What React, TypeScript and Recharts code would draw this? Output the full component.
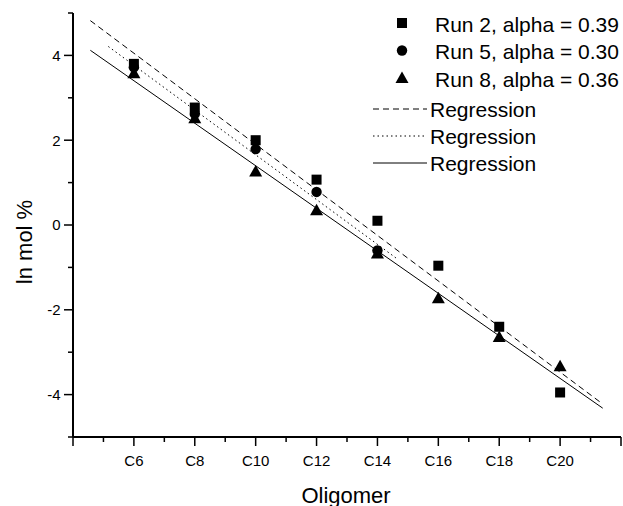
import { ComposedChart, Line, Scatter, XAxis, YAxis, Label } from "recharts";

const carbons = [6, 8, 10, 12, 14, 16, 18, 20];
const run2 = [3.8, 2.77, 2.0, 1.07, 0.1, -0.96, -2.4, -3.95];
const run5 = [3.72, 2.62, 1.79, 0.78, -0.6];
const run8 = [3.58, 2.52, 1.26, 0.35, -0.67, -1.73, -2.64, -3.33];

// regression line end points
const reg2X = [4.57, 21.36];
const reg2Y = [4.82, -4.2];
const reg5X = [5.16, 14.67];
const reg5Y = [4.21, -0.81];
const reg8X = [4.57, 21.4];
const reg8Y = [4.12, -4.32];

const xTicks = [4, 5, 6, 7, 8, 9, 10, 11, 12, 13, 14, 15, 16, 17, 18, 19, 20, 21, 22];
const yTicks = [-5, -4, -3, -2, -1, 0, 1, 2, 3, 4, 5];

const runLabels = ["Run 2, alpha = 0.39", "Run 5, alpha = 0.30", "Run 8, alpha = 0.36"];
const regLabel = "Regression";

const FONT = "'Liberation Sans', Arial, sans-serif";

const toPoints = (xs: number[], ys: number[]) => ys.map((y, i) => ({ x: xs[i], y }));

function Square({ cx, cy }: any) {
  return <rect x={cx - 5} y={cy - 5} width={10} height={10} fill="#000" />;
}
function Circle({ cx, cy }: any) {
  return <circle cx={cx} cy={cy} r={5.2} fill="#000" />;
}
function Triangle({ cx, cy }: any) {
  return <polygon points={`${cx},${cy - 6.5} ${cx - 6.5},${cy + 5} ${cx + 6.5},${cy + 5}`} fill="#000" />;
}

function XTick({ x, y, payload }: any) {
  const v = payload.value as number;
  const major = v % 2 === 0;
  return (
    <g>
      <line x1={x} x2={x} y1={y} y2={y + (major ? 9 : 5)} stroke="#000" strokeWidth={1.5} />
      {major && v >= 6 && v <= 20 && (
        <text x={x} y={y + 29} textAnchor="middle" fontSize={15} fontFamily={FONT} fill="#000">
          C{v}
        </text>
      )}
    </g>
  );
}

function YTick({ x, y, payload }: any) {
  const v = payload.value as number;
  const major = v % 2 === 0;
  return (
    <g>
      <line x1={x} x2={x - (major ? 9 : 5)} y1={y} y2={y} stroke="#000" strokeWidth={1.5} />
      {major && (
        <text x={x - 12.5} y={y} dy="0.36em" textAnchor="end" fontSize={15} fontFamily={FONT} fill="#000">
          {v}
        </text>
      )}
    </g>
  );
}

function ChartLegend() {
  const symbols = [Square, Circle, Triangle];
  const dashes = ["6 4", "1.5 3", undefined];
  const rowsY = [24, 51.5, 79, 109, 136, 163];
  return (
    <svg width={260} height={185} style={{ position: "absolute", left: 363, top: 0 }}>
      <g transform="translate(-363,0)">
        {runLabels.map((label, i) => {
          const Sym = symbols[i];
          return (
            <g key={label}>
              <Sym cx={402} cy={rowsY[i] - 1} />
              <text x={435} y={rowsY[i]} dy="0.36em" fontSize={21} fontFamily={FONT} fill="#000">
                {label}
              </text>
            </g>
          );
        })}
        {dashes.map((d, i) => (
          <g key={i}>
            <line x1={373} x2={427} y1={rowsY[i + 3]} y2={rowsY[i + 3]} stroke="#000" strokeWidth={1} strokeDasharray={d} />
            <text x={430} y={rowsY[i + 3]} dy="0.36em" fontSize={21} fontFamily={FONT} fill="#000">
              {regLabel}
            </text>
          </g>
        ))}
      </g>
    </svg>
  );
}

export default function App() {
  return (
    <div style={{ position: "absolute", left: 0, top: 0, width: 623, height: 506, background: "#fff" }}>
      <ComposedChart width={623} height={506} margin={{ top: 13, right: 2, left: 0, bottom: 0 }}>
        <XAxis
          type="number"
          dataKey="x"
          domain={[4, 22]}
          ticks={xTicks}
          interval={0}
          tickSize={0}
          tickMargin={0}
          tickLine={false}
          tick={<XTick />}
          height={69}
          axisLine={{ stroke: "#000", strokeWidth: 2 }}
          allowDataOverflow
        >
          <Label
            content={() => (
              <text x={346} y={503} textAnchor="middle" fontSize={22} fontFamily={FONT} fill="#000">
                Oligomer
              </text>
            )}
          />
        </XAxis>
        <YAxis
          type="number"
          dataKey="y"
          domain={[-5, 5]}
          ticks={yTicks}
          interval={0}
          tickSize={0}
          tickMargin={0}
          tickLine={false}
          tick={<YTick />}
          width={73}
          axisLine={{ stroke: "#000", strokeWidth: 2 }}
          allowDataOverflow
        >
          <Label
            content={() => (
              <text
                x={32}
                y={242}
                textAnchor="middle"
                fontSize={22}
                fontFamily={FONT}
                fill="#000"
                transform="rotate(-90 32 242)"
              >
                ln mol %
              </text>
            )}
          />
        </YAxis>
        <Line data={toPoints(reg2X, reg2Y)} dataKey="y" type="linear" stroke="#000" strokeWidth={1} strokeDasharray="6 4" dot={false} isAnimationActive={false} />
        <Line data={toPoints(reg5X, reg5Y)} dataKey="y" type="linear" stroke="#000" strokeWidth={1} strokeDasharray="1.5 3" dot={false} isAnimationActive={false} />
        <Line data={toPoints(reg8X, reg8Y)} dataKey="y" type="linear" stroke="#000" strokeWidth={1} dot={false} isAnimationActive={false} />
        <Scatter data={toPoints(carbons, run8)} dataKey="y" shape={<Triangle />} isAnimationActive={false} />
        <Scatter data={toPoints(carbons, run5)} dataKey="y" shape={<Circle />} isAnimationActive={false} />
        <Scatter data={toPoints(carbons, run2)} dataKey="y" shape={<Square />} isAnimationActive={false} />
      </ComposedChart>
      <ChartLegend />
    </div>
  );
}
